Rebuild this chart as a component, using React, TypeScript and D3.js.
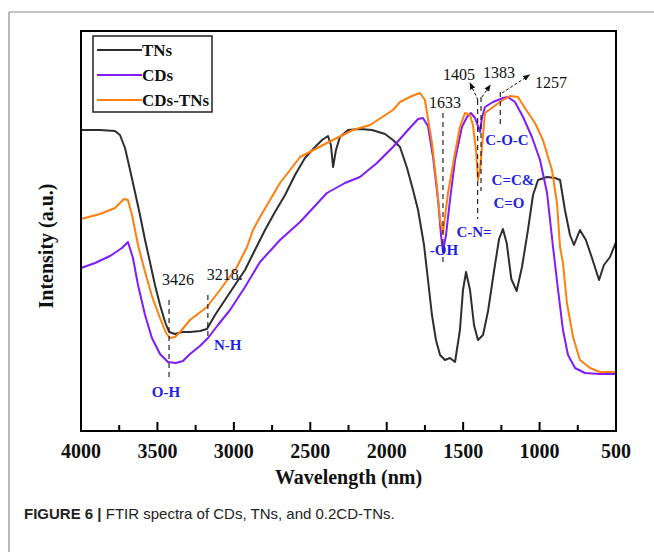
import React from 'react';
import * as d3 from 'd3';

// FTIR spectra: [wavenumber, intensity (a.u.)]
const tns: [number, number][] = [
  [4000, 75.25], [3876, 75.25], [3778, 75], [3745, 74], [3712, 70.75], [3679, 65.25],
  [3647, 59.75], [3614, 54], [3581, 47.75], [3549, 42.25], [3516, 36.5], [3483, 31.5],
  [3450, 27.25], [3424, 24.75], [3385, 24.25], [3339, 24.75], [3287, 24.75], [3222, 25],
  [3176, 25.5], [3123, 29], [3058, 32.75], [2993, 36.5], [2927, 40.25], [2862, 45.25],
  [2796, 50.25], [2731, 54.75], [2665, 59], [2600, 64], [2535, 68.25], [2469, 71],
  [2423, 72.75], [2384, 73.75], [2365, 71.5], [2351, 66], [2332, 70.25], [2306, 73.5],
  [2253, 75.25], [2175, 75.5], [2096, 75.25], [2011, 74.25], [1959, 72.75], [1913, 71],
  [1867, 65.75], [1828, 60.25], [1795, 55.25], [1756, 46.5], [1730, 37.75], [1704, 29],
  [1678, 22.75], [1651, 19], [1619, 17.75], [1586, 18.25], [1553, 17.25], [1521, 25.25],
  [1501, 35.25], [1481, 39.75], [1455, 35.25], [1429, 26.5], [1403, 22.75], [1370, 24],
  [1337, 30], [1298, 40], [1265, 48], [1240, 50.5], [1215, 47], [1185, 38],
  [1150, 35], [1115, 41], [1076, 50.25], [1043, 59], [1010, 62.75], [951, 63.5],
  [899, 63.25], [866, 62.75], [834, 55.25], [801, 49], [775, 46.5], [736, 50.25],
  [697, 47.75], [657, 43.25], [611, 37.75], [579, 41.5], [539, 43.5], [500, 47.25],
];

const cds: [number, number][] = [
  [4000, 40.75], [3908, 42], [3810, 43.75], [3732, 45.75], [3693, 47.25], [3660, 43.25],
  [3627, 36.5], [3581, 29], [3536, 23.25], [3483, 19.25], [3431, 17.25], [3379, 17],
  [3333, 17.5], [3287, 19.25], [3222, 21.25], [3169, 23.25], [3104, 26.5], [3025, 30.25],
  [2927, 36], [2829, 42.25], [2698, 47.75], [2567, 52.25], [2391, 59.5], [2273, 62],
  [2175, 63.5], [2064, 67], [1959, 71], [1861, 75.25], [1795, 78], [1763, 78.25],
  [1730, 76.25], [1697, 68.5], [1664, 57.75], [1645, 49], [1632, 44.75], [1612, 49],
  [1586, 57.75], [1553, 67.75], [1508, 76], [1475, 78.5], [1449, 79.5], [1422, 78.25],
  [1403, 76.25], [1390, 74.75], [1377, 78.25], [1357, 81], [1305, 82.25], [1239, 83.25],
  [1207, 83.5], [1161, 82.25], [1108, 78.5], [1050, 73.5], [997, 67.75], [951, 59.5],
  [912, 46], [879, 35.25], [847, 25.25], [814, 19], [768, 15.75], [703, 14.5],
  [605, 14.25], [500, 14.25],
];

const cdsTns: [number, number][] = [
  [4000, 53], [3876, 54.25], [3778, 55.75], [3719, 58], [3693, 57.75], [3666, 54],
  [3627, 46.5], [3581, 39.75], [3536, 33.75], [3483, 28.25], [3444, 24.5], [3418, 23.25],
  [3385, 23.5], [3352, 24.75], [3287, 27.75], [3176, 31], [3091, 35.25], [2980, 41],
  [2914, 46], [2875, 50.25], [2829, 53.5], [2698, 62], [2567, 68.5], [2391, 72],
  [2221, 75.25], [2109, 76.5], [1959, 80.25], [1913, 82.25], [1835, 83.75], [1782, 84.5],
  [1750, 82.75], [1704, 72], [1671, 61], [1651, 52.75], [1632, 49.5], [1599, 59.5],
  [1553, 69.5], [1521, 76], [1488, 79.5], [1455, 79], [1436, 76.5], [1416, 70.25],
  [1403, 62.75], [1390, 65.25], [1377, 71], [1357, 79.5], [1305, 81], [1239, 82.75],
  [1194, 83.75], [1141, 83.5], [1096, 80.75], [1030, 77], [978, 72.75], [919, 65.25],
  [886, 57], [866, 46], [847, 42], [821, 32], [781, 23.5], [736, 17.75],
  [670, 15.75], [605, 14.75], [500, 14.75],
];

const seriesNames = ['TNs', 'CDs', 'CDs-TNs'];
const seriesColors = ['#2e2e2e', '#7f1cf8', '#ff7f0e'];
const seriesData = [tns, cds, cdsTns];

const xTicks = [4000, 3500, 3000, 2500, 2000, 1500, 1000, 500];
const xMinorTicks = [3750, 3250, 2750, 2250, 1750, 1250, 750];

// peak wavenumber labels: [text, wavenumber, intensity]
const peakLabels: [string, number, number][] = [
  ['3426', 3365, 36.5], ['3218.', 3060, 37.75], ['1633', 1619, 80.75],
  ['1405', 1527, 87.75], ['1383', 1265, 88.25], ['1257', 925, 85.75],
];
// dashed markers: [wavenumber, from, to]
const peakMarks: [number, number, number][] = [
  [3424, 32.75, 13.25], [3170, 34, 22.75], [1632, 79.5, 41.5],
  [1405, 82.75, 53], [1383, 83.5, 60], [1257, 84.75, 76],
];
// arrows: [w1, v1, w2, v2]
const arrows: [number, number, number, number][] = [
  [1403, 82.75, 1455, 87], [1377, 83.5, 1322, 86.5], [1246, 84.5, 1066, 89],
];
// bond labels: [text, wavenumber, intensity]
const bondLabels: [string, number, number][] = [
  ['O-H', 3444, 9.75], ['N-H', 3040, 21.5], ['-OH', 1625, 45.25],
  ['C-N=', 1429, 49.75], ['C-O-C', 1213, 72.75], ['C=C&', 1174, 62.75], ['C=O', 1200, 57],
];

const W = 654;
const H = 552;
const plot = { left: 81, right: 616, top: 31, bottom: 431 };
const serif = '"Liberation Serif", "Times New Roman", serif';

export default function App() {
  const x = d3.scaleLinear().domain([4000, 500]).range([plot.left, plot.right]);
  const y = d3.scaleLinear().domain([0, 100]).range([plot.bottom, plot.top]);
  const line = d3.line<[number, number]>().x(d => x(d[0])).y(d => y(d[1]));

  return (
    <svg width={W} height={H} style={{ position: 'absolute', left: 0, top: 0, background: '#fff' }}>
      <defs>
        <marker id="arr" viewBox="0 0 10 10" refX="9" refY="5" markerWidth="7" markerHeight="7" orient="auto">
          <path d="M0,1 L10,5 L0,9 Z" fill="#111" />
        </marker>
      </defs>

      {/* figure frame */}
      <line x1={9} y1={12} x2={W} y2={12} stroke="#8a8a8a" strokeWidth={1.2} />
      <line x1={9} y1={12} x2={9} y2={H} stroke="#8a8a8a" strokeWidth={1.2} />

      {/* series */}
      {seriesData.map((d, i) => (
        <path key={seriesNames[i]} d={line(d) || ''} fill="none" stroke={seriesColors[i]}
          strokeWidth={2} strokeLinejoin="round" />
      ))}

      {/* dashed peak markers */}
      {peakMarks.map(([w, a, b], i) => (
        <line key={'m' + i} x1={x(w)} x2={x(w)} y1={y(a)} y2={y(b)} stroke="#111"
          strokeWidth={1.1} strokeDasharray="5,4" />
      ))}
      {arrows.map(([w1, v1, w2, v2], i) => (
        <line key={'a' + i} x1={x(w1)} y1={y(v1)} x2={x(w2)} y2={y(v2)} stroke="#111"
          strokeWidth={1} strokeDasharray="3,2" markerEnd="url(#arr)" />
      ))}
      {peakLabels.map(([t, w, v]) => (
        <text key={t} x={x(w)} y={y(v)} textAnchor="middle" fontFamily={serif} fontSize={16} fill="#111">{t}</text>
      ))}
      {bondLabels.map(([t, w, v]) => (
        <text key={t} x={x(w)} y={y(v)} dy="0.35em" textAnchor="middle" fontFamily={serif} fontSize={15}
          fontWeight="bold" fill="#1f1fe6">{t}</text>
      ))}

      {/* plot box */}
      <rect x={plot.left} y={plot.top} width={plot.right - plot.left} height={plot.bottom - plot.top}
        fill="none" stroke="#000" strokeWidth={2} />
      {xTicks.map(t => (
        <line key={'t' + t} x1={x(t)} x2={x(t)} y1={plot.bottom} y2={plot.bottom - 9} stroke="#000" strokeWidth={2} />
      ))}
      {xMinorTicks.map(t => (
        <line key={'n' + t} x1={x(t)} x2={x(t)} y1={plot.bottom} y2={plot.bottom - 6} stroke="#000" strokeWidth={2} />
      ))}
      {xTicks.map(t => (
        <text key={'l' + t} x={x(t)} y={458} textAnchor="middle" fontFamily={serif} fontSize={20}
          fontWeight="bold" fill="#111">{t}</text>
      ))}
      <text x={(plot.left + plot.right) / 2} y={484} textAnchor="middle" fontFamily={serif} fontSize={20}
        fontWeight="bold" fill="#111">Wavelength (nm)</text>
      <text transform={`translate(53,${(plot.top + plot.bottom) / 2 + 15}) rotate(-90)`} textAnchor="middle"
        fontFamily={serif} fontSize={20} fontWeight="bold" fill="#111">Intensity (a.u.)</text>

      {/* legend */}
      <rect x={93} y={36} width={119} height={76} fill="#fff" stroke="#222" strokeWidth={1.5} />
      {seriesNames.map((n, i) => (
        <g key={n} transform={`translate(0,${50 + i * 25})`}>
          <line x1={97} x2={142} y1={0} y2={0} stroke={seriesColors[i]} strokeWidth={2} />
          <text x={142} y={0} dy="0.35em" fontFamily={serif} fontSize={17} fontWeight="bold" fill="#111">{n}</text>
        </g>
      ))}

      {/* caption */}
      <text x={24} y={519} fontFamily='"Liberation Sans", Arial, sans-serif' fontSize={15} fill="#222">
        <tspan fontWeight="bold">FIGURE 6 | </tspan>FTIR spectra of CDs, TNs, and 0.2CD-TNs.
      </text>
    </svg>
  );
}
